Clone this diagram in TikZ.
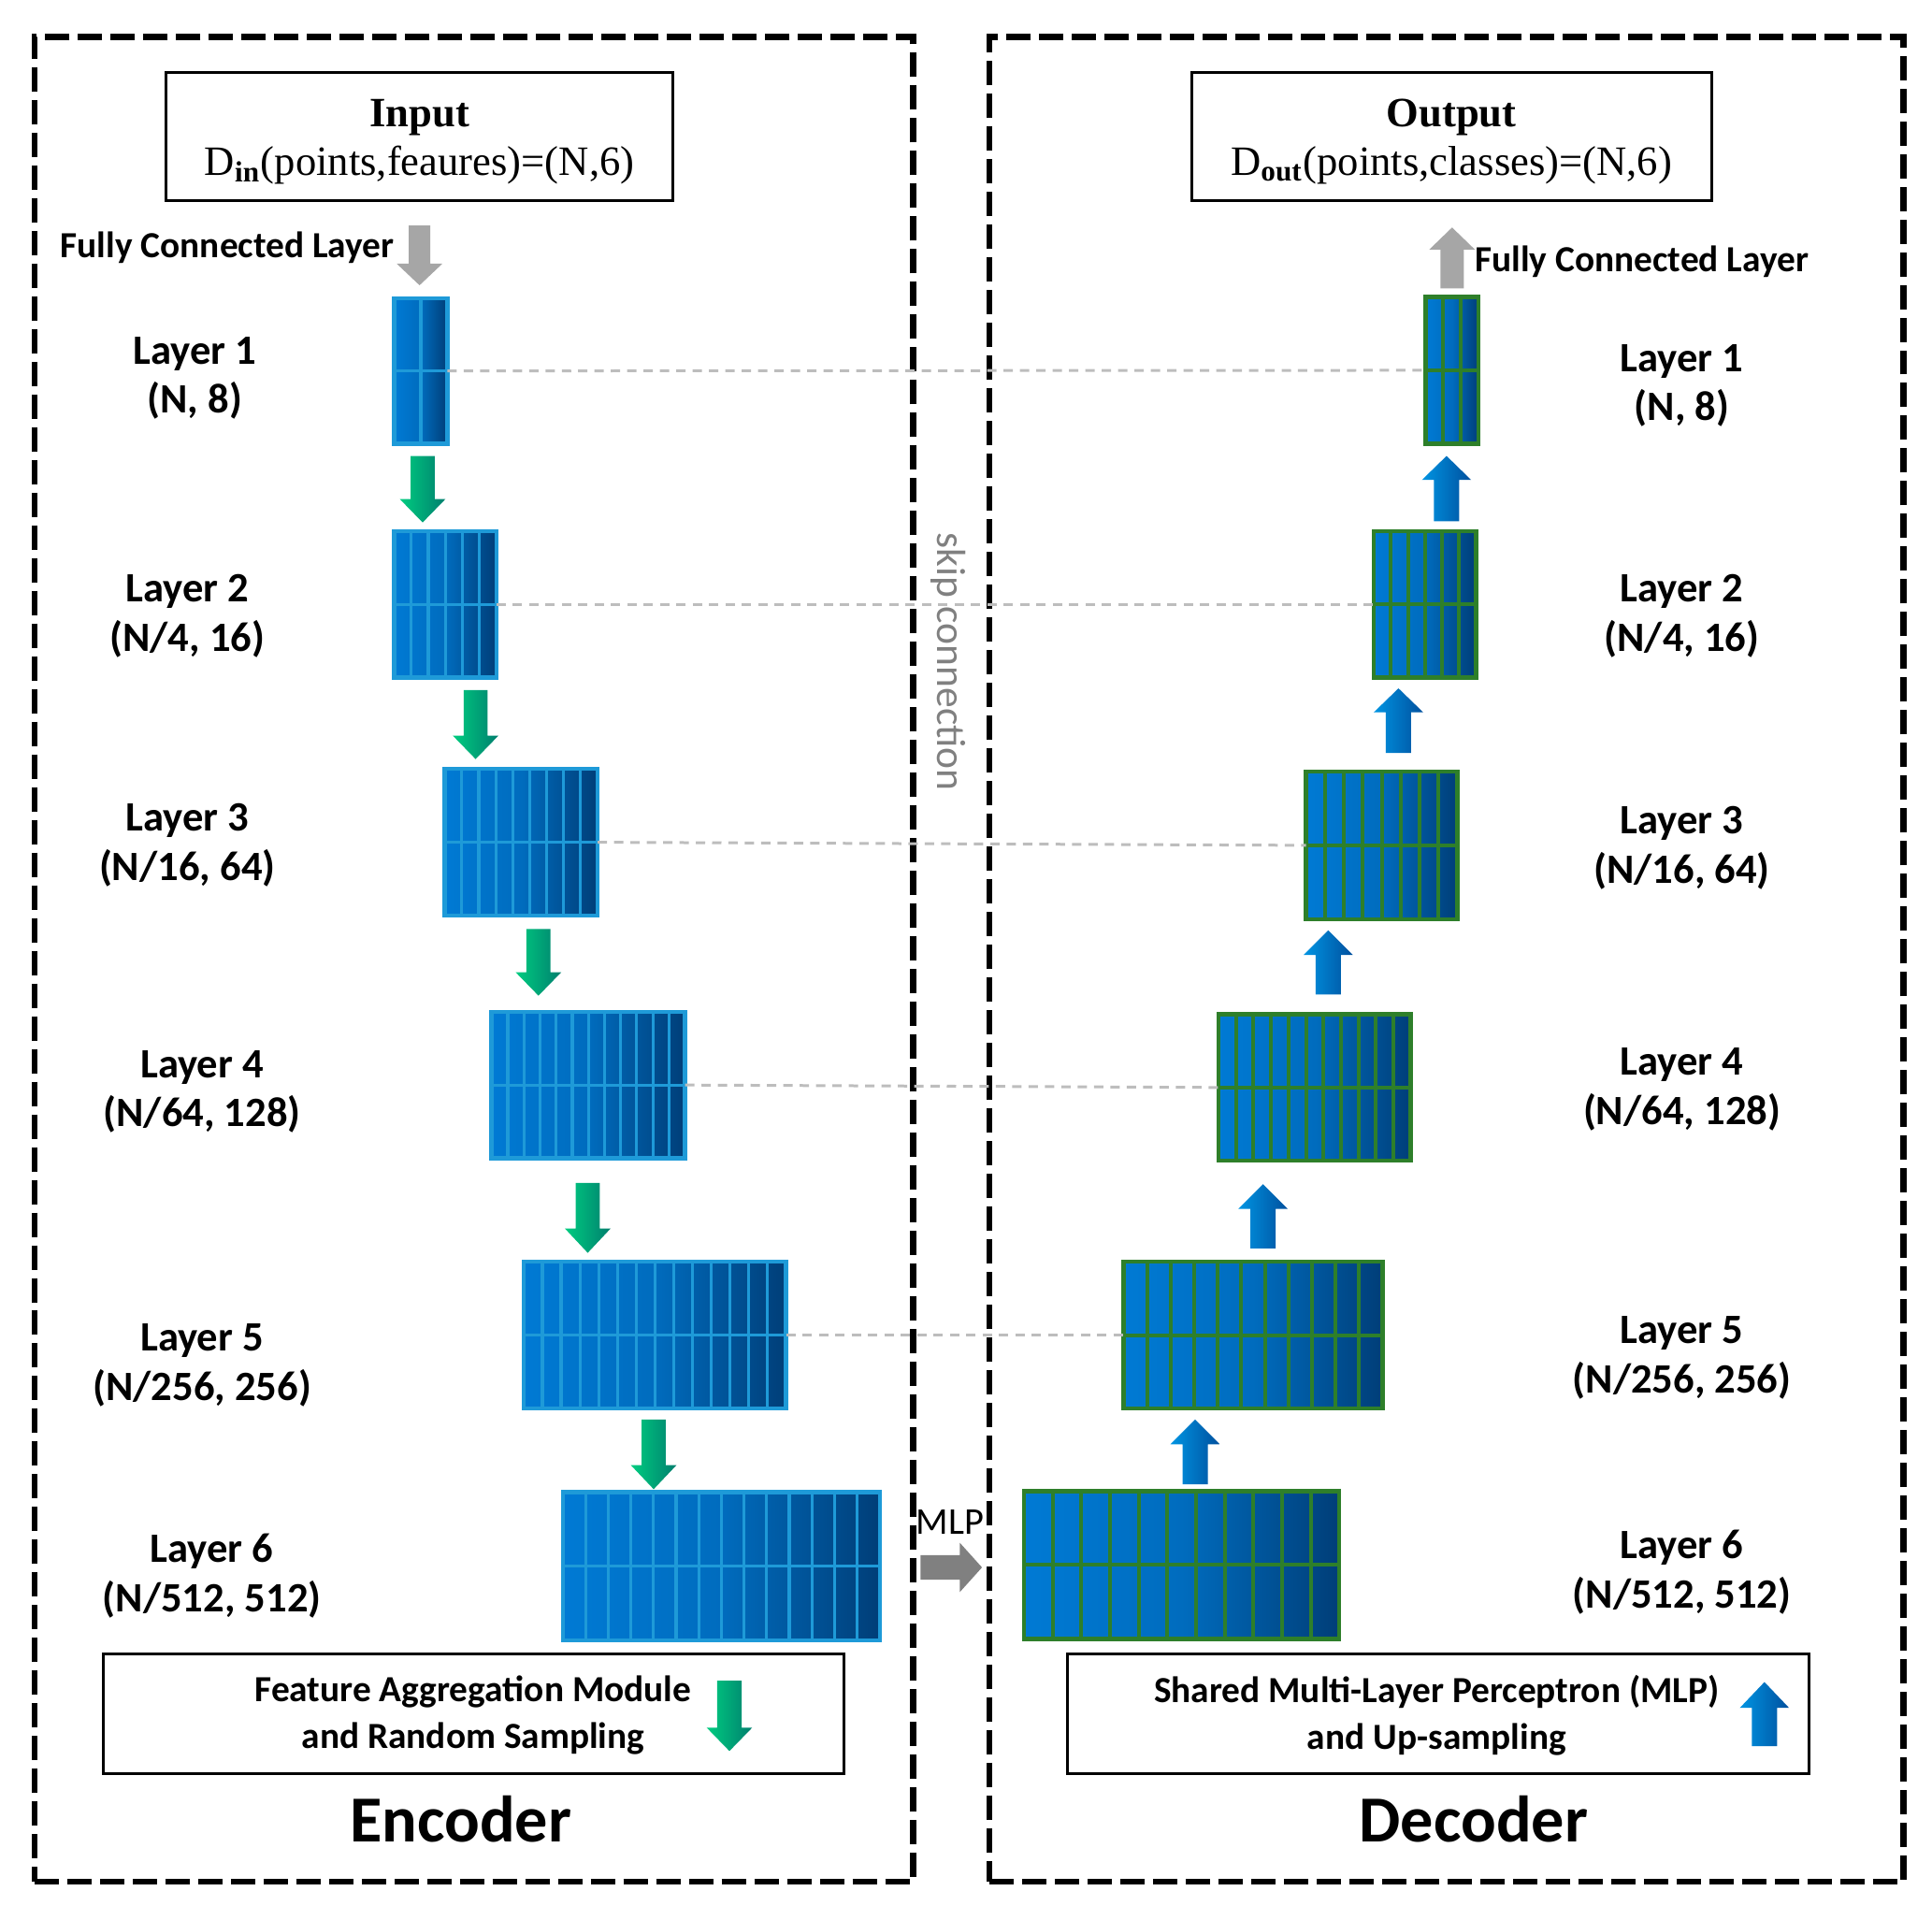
\documentclass[tikz,border=0pt]{standalone}
\usepackage{fontspec}
\setmainfont{Liberation Serif}
\newfontfamily\calfont{Carlito}
\usetikzlibrary{calc,fit}
\definecolor{encL}{HTML}{007AD4}
\definecolor{encM}{HTML}{006CBE}
\definecolor{encR}{HTML}{003E78}
\definecolor{encLine}{HTML}{1E9AD8}
\definecolor{decLine}{HTML}{2E7F2A}
\definecolor{grL}{HTML}{00CC80}
\definecolor{grR}{HTML}{007F6E}
\definecolor{blL}{HTML}{0094E2}
\definecolor{blR}{HTML}{00509E}
\definecolor{fcgray}{HTML}{A6A6A6}
\definecolor{mlpgray}{HTML}{808080}
\definecolor{skipgray}{HTML}{BDBDBD}
\tikzset{
  frame/.style={inner sep=0pt, outer sep=0pt, draw, line width=0.65mm, dash pattern=on 2.6mm off 0.9mm},
  textbox/.style={inner sep=0pt, outer sep=0pt, draw, line width=0.3mm},
  encblock/.style={inner sep=0pt, outer sep=0pt, left color=encL, right color=encR, middle color=encM},
  decblock/.style={inner sep=0pt, outer sep=0pt, left color=encL, right color=encR, middle color=encM},
  encsep/.style={draw=encLine, line width=0.32mm},
  decsep/.style={draw=decLine, line width=0.4mm},
  lab/.style={font=\calfont\bfseries\fontsize{12.7}{15}\selectfont, align=center, inner sep=0pt},
  fctext/.style={font=\calfont\bfseries\fontsize{11.2}{13}\selectfont, inner sep=0pt},
  legtext/.style={font=\calfont\bfseries\fontsize{11.2}{14.25}\selectfont, align=center, inner sep=0pt},
  serif/.style={font=\fontsize{12.7}{14.6}\selectfont, align=center, inner sep=0pt},
  title/.style={font=\calfont\bfseries\fontsize{20}{24}\selectfont, inner sep=0pt},
  skipline/.style={draw=skipgray, line width=0.3mm, dash pattern=on 1mm off 0.75mm},
  grarrow/.style={left color=grL, right color=grR},
  blarrow/.style={left color=blL, right color=blR},
  fcarrow/.style={left color=fcgray, right color=fcgray},
}
% block: name, x1, y1, x2, y2, ncols, kind (enc/dec)
\newcommand\mkblock[7]{%
  \node[#7block, fit={(#2,#3)(#4,#5)}] (#1) {};
  \pgfmathtruncatemacro\ncm{#6-1}
  \foreach \i in {1,...,\ncm}{
    \draw[#7sep] ($(#1.north west)!\i/#6!(#1.north east)$) -- ($(#1.south west)!\i/#6!(#1.south east)$);
  }
  \draw[#7sep] (#1.west) -- (#1.east);
  \draw[#7sep, line width=0.45mm] (#1.north west) rectangle (#1.south east);
}
% vertical block arrow: cx, tail y, tip y, head base y, half shaft, half head, style
\newcommand\vblockarrow[7]{%
  \shade[#7] (#1-#5,#2) -- (#1+#5,#2) -- (#1+#5,#4) -- (#1+#6,#4) -- (#1,#3) -- (#1-#6,#4) -- (#1-#5,#4) -- cycle;
}
\begin{document}
\begin{tikzpicture}[x=0.1318mm, y=-0.1318mm]
\useasboundingbox (0,0) rectangle (1568,1557.4);

% frames
\node[frame, fit={(28,30)(741,1527)}] (encframe) {};
\node[frame, fit={(803,30)(1545,1527)}] (decframe) {};

% input / output boxes
\node[textbox, fit={(135,59)(546,163)}] (inbox) {};
\node[serif] (intext) at ($(inbox.center)+(0,4)$) {\textbf{Input}\\D\textsubscript{\textbf{in}}(points,feaures)=(N,6)};
\node[textbox, fit={(967,59)(1389,163)}] (outbox) {};
\node[serif] (outtext) at ($(outbox.center)+(0,4)$) {\textbf{Output}\\D\textsubscript{\textbf{out}}(points,classes)=(N,6)};

% encoder blocks
\mkblock{e1}{320}{242}{363}{360}{2}{enc}
\mkblock{e2}{320}{431}{403}{550}{6}{enc}
\mkblock{e3}{361}{624}{485}{743}{9}{enc}
\mkblock{e4}{399}{821}{556}{940}{12}{enc}
\mkblock{e5}{425}{1024}{638}{1143}{14}{enc}
\mkblock{e6}{457}{1211}{714}{1331}{14}{enc}

% decoder blocks
\mkblock{d1}{1157}{241}{1200}{360}{3}{dec}
\mkblock{d2}{1115}{431}{1198}{550}{6}{dec}
\mkblock{d3}{1060}{626}{1183}{746}{8}{dec}
\mkblock{d4}{989}{823}{1145}{942}{11}{dec}
\mkblock{d5}{912}{1024}{1122}{1143}{11}{dec}
\mkblock{d6}{831}{1210}{1087}{1330}{11}{dec}

% skip connections
\draw[skipline] (e1.east) -- (d1.west);
\draw[skipline] (e2.east) -- (d2.west);
\draw[skipline] (e3.east) -- (d3.west);
\draw[skipline] (e4.east) -- (d4.west);
\draw[skipline] (e5.east) -- (d5.west);

% fully connected arrows
\vblockarrow{340.5}{183}{231.5}{214}{8.75}{18.5}{fcarrow}
\vblockarrow{1178.5}{234}{184.6}{202.5}{9.5}{18.5}{fcarrow}
\node[fctext] (fcin) at (184.5,201) {Fully Connected Layer};
\node[fctext] (fcout) at (1332.5,212) {Fully Connected Layer};

% encoder arrows
\vblockarrow{343}{370}{424}{405}{9.75}{18.5}{grarrow}
\vblockarrow{386}{560}{616}{597}{9.75}{18.5}{grarrow}
\vblockarrow{437}{754}{808}{789}{9.75}{18.5}{grarrow}
\vblockarrow{477}{960}{1016.7}{997}{9.75}{18.5}{grarrow}
\vblockarrow{530.5}{1152}{1208.5}{1189}{9.75}{18.5}{grarrow}

% decoder arrows
\vblockarrow{970}{1204.5}{1152}{1172}{10.25}{20}{blarrow}
\vblockarrow{1025}{1013}{961}{981}{10.25}{20}{blarrow}
\vblockarrow{1078}{807}{755}{775}{10.25}{20}{blarrow}
\vblockarrow{1135}{611}{558.6}{578}{10.25}{20}{blarrow}
\vblockarrow{1174}{423}{370}{389.5}{10.25}{20}{blarrow}

% MLP arrow
\fill[mlpgray] (747,1262) -- (779,1262) -- (779,1252) -- (797,1272) -- (779,1292) -- (779,1282) -- (747,1282) -- cycle;
\node[font=\calfont\fontsize{11.5}{13}\selectfont, inner sep=0pt] (mlptxt) at (771,1235) {MLP};

% skip connection label
\node[font=\calfont\fontsize{12.4}{14}\selectfont, text=mlpgray, rotate=-90, inner sep=0pt] (skiptxt) at (770,537) {skip connection};

% layer labels encoder
\node[lab] (le1) at (158,307) {Layer 1\\(N, 8)};
\node[lab] (le2) at (152,500) {Layer 2\\(N/4, 16)};
\node[lab] (le3) at (152,686) {Layer 3\\(N/16, 64)};
\node[lab] (le4) at (164,886) {Layer 4\\(N/64, 128)};
\node[lab] (le5) at (164,1108) {Layer 5\\(N/256, 256)};
\node[lab] (le6) at (172,1279) {Layer 6\\(N/512, 512)};

% layer labels decoder
\node[lab] (ld1) at (1365,313) {Layer 1\\(N, 8)};
\node[lab] (ld2) at (1365,500) {Layer 2\\(N/4, 16)};
\node[lab] (ld3) at (1365,688) {Layer 3\\(N/16, 64)};
\node[lab] (ld4) at (1365,884) {Layer 4\\(N/64, 128)};
\node[lab] (ld5) at (1365,1102) {Layer 5\\(N/256, 256)};
\node[lab] (ld6) at (1365,1276) {Layer 6\\(N/512, 512)};

% legend boxes
\node[textbox, fit={(84,1342)(685,1439)}] (encleg) {};
\node[legtext] (enclegtxt) at (384,1392) {Feature Aggregation Module\\and Random Sampling};
\vblockarrow{592}{1364}{1421}{1402}{10}{18.5}{grarrow}
\node[textbox, fit={(866,1342)(1468,1439)}] (decleg) {};
\node[legtext] (declegtxt) at (1166,1392) {Shared Multi-Layer Perceptron (MLP)\\and Up-sampling};
\vblockarrow{1432}{1417}{1365}{1386}{10.25}{20}{blarrow}

% titles
\node[title] (enctitle) at (374,1476) {Encoder};
\node[title] (dectitle) at (1196,1476) {Decoder};
\end{tikzpicture}
\end{document}
